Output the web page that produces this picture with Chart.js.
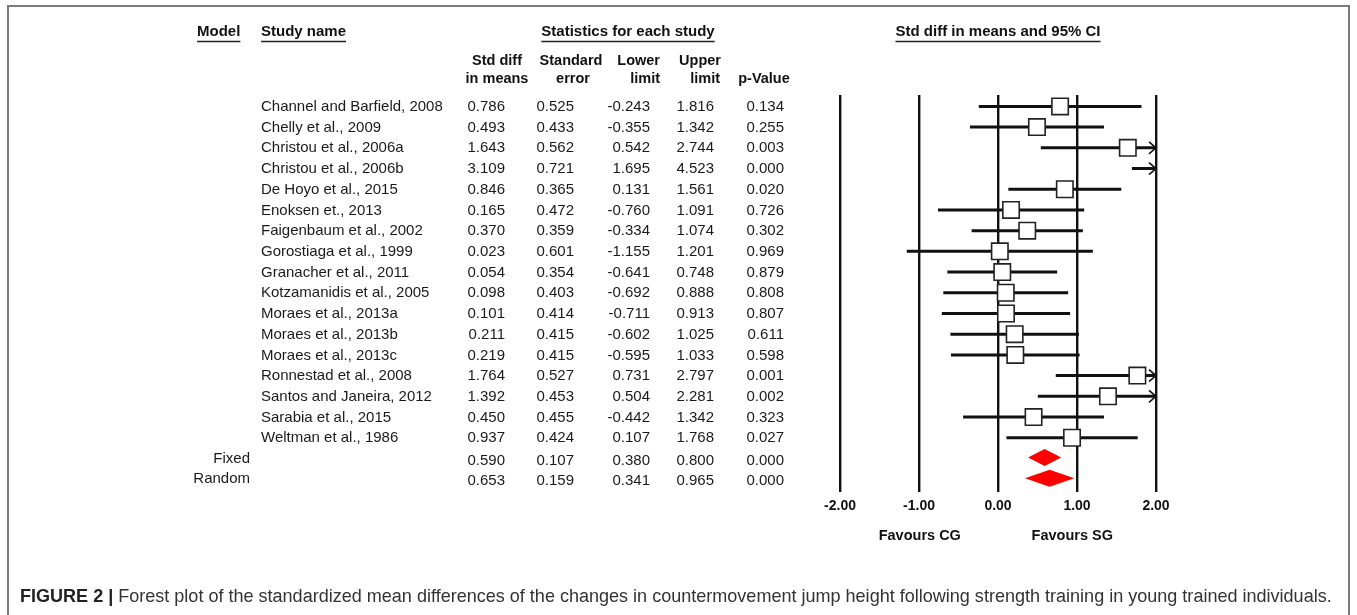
<!DOCTYPE html>
<html><head><meta charset="utf-8">
<script src="https://cdn.jsdelivr.net/npm/chart.js@4/dist/chart.umd.min.js"></script>
<style>
html,body{margin:0;padding:0;background:#fff;width:1357px;height:615px;overflow:hidden}
#wrap{position:absolute;left:0;top:0;width:1357px;height:615px}
</style></head><body>
<div id="wrap"><canvas id="c" width="1357" height="615"></canvas></div>
<script>
const studies = [
  'Channel and Barfield, 2008','Chelly et al., 2009','Christou et al., 2006a','Christou et al., 2006b',
  'De Hoyo et al., 2015','Enoksen et., 2013','Faigenbaum et al., 2002','Gorostiaga et al., 1999',
  'Granacher et al., 2011','Kotzamanidis et al., 2005','Moraes et al., 2013a','Moraes et al., 2013b',
  'Moraes et al., 2013c','Ronnestad et al., 2008','Santos and Janeira, 2012','Sarabia et al., 2015',
  'Weltman et al., 1986'
];
const estimates   = [0.786,0.493,1.643,3.109,0.846,0.165,0.370,0.023,0.054,0.098,0.101,0.211,0.219,1.764,1.392,0.450,0.937];
const stdErrors   = [0.525,0.433,0.562,0.721,0.365,0.472,0.359,0.601,0.354,0.403,0.414,0.415,0.415,0.527,0.453,0.455,0.424];
const lowerLimits = [-0.243,-0.355,0.542,1.695,0.131,-0.760,-0.334,-1.155,-0.641,-0.692,-0.711,-0.602,-0.595,0.731,0.504,-0.442,0.107];
const upperLimits = [1.816,1.342,2.744,4.523,1.561,1.091,1.074,1.201,0.748,0.888,0.913,1.025,1.033,2.797,2.281,1.342,1.768];
const pValues     = [0.134,0.255,0.003,0.000,0.020,0.726,0.302,0.969,0.879,0.808,0.807,0.611,0.598,0.001,0.002,0.323,0.027];

const summaryLabels    = ['Fixed','Random'];
const summaryEstimates = [0.590,0.653];
const summaryErrors    = [0.107,0.159];
const summaryLower     = [0.380,0.341];
const summaryUpper     = [0.800,0.965];
const summaryP         = [0.000,0.000];

const xTicks = [-2,-1,0,1,2];
const xMin = -2, xMax = 2;

const nRows = studies.length + summaryLabels.length;
const F = '"Liberation Sans", Arial, sans-serif';

function txt(ctx, s, x, y, font, align, color){
  ctx.font = font; ctx.textAlign = align || 'left'; ctx.textBaseline = 'middle';
  ctx.fillStyle = color || '#111'; ctx.fillText(s, x, y);
}
function underlined(ctx, s, x, y, align){
  const font = 'bold 15px ' + F;
  txt(ctx, s, x, y, font, align);
  const w = ctx.measureText(s).width;
  let x0 = x;
  if (align === 'center') x0 = x - w/2;
  else if (align === 'right') x0 = x - w;
  ctx.strokeStyle = '#222'; ctx.lineWidth = 1.3;
  ctx.beginPath(); ctx.moveTo(x0, y + 9.5); ctx.lineTo(x0 + w, y + 9.5); ctx.stroke();
}

const forestPlugin = {
  id: 'forest',
  beforeDraw(chart){
    const ctx = chart.ctx;
    ctx.save();
    ctx.fillStyle = '#fff'; ctx.fillRect(0,0,chart.width,chart.height);
    ctx.strokeStyle = '#7a7a7a'; ctx.lineWidth = 2;
    ctx.beginPath();
    ctx.moveTo(8, 620); ctx.lineTo(8, 6); ctx.lineTo(1349, 6); ctx.lineTo(1349, 620);
    ctx.stroke();
    ctx.restore();
  },
  beforeDatasetsDraw(chart){
    const ctx = chart.ctx, xs = chart.scales.x, ys = chart.scales.y;
    ctx.save();
    ctx.strokeStyle = '#111'; ctx.lineWidth = 3; ctx.lineCap = 'butt';
    for (let i = 0; i < studies.length; i++){
      const lo = Math.max(lowerLimits[i], xMin), hi = Math.min(upperLimits[i], xMax);
      const y = ys.getPixelForValue(i);
      const x0 = xs.getPixelForValue(lo), x1 = xs.getPixelForValue(hi);
      ctx.beginPath(); ctx.moveTo(x0, y); ctx.lineTo(x1, y); ctx.stroke();
      if (upperLimits[i] > xMax){
        ctx.save(); ctx.lineWidth = 1.6;
        ctx.beginPath(); ctx.moveTo(x1 - 7, y - 6); ctx.lineTo(x1, y); ctx.lineTo(x1 - 7, y + 6); ctx.stroke();
        ctx.restore();
      }
      if (lowerLimits[i] < xMin){
        ctx.save(); ctx.lineWidth = 1.6;
        ctx.beginPath(); ctx.moveTo(x0 + 7, y - 6); ctx.lineTo(x0, y); ctx.lineTo(x0 + 7, y + 6); ctx.stroke();
        ctx.restore();
      }
    }
    ctx.fillStyle = '#ff0000';
    for (let k = 0; k < summaryLabels.length; k++){
      const y = ys.getPixelForValue(studies.length + k) - 1;
      const xl = xs.getPixelForValue(summaryLower[k]);
      const xc = xs.getPixelForValue(summaryEstimates[k]);
      const xr = xs.getPixelForValue(summaryUpper[k]);
      const h = 8.5;
      ctx.beginPath(); ctx.moveTo(xl, y); ctx.lineTo(xc, y - h); ctx.lineTo(xr, y); ctx.lineTo(xc, y + h); ctx.closePath(); ctx.fill();
    }
    ctx.restore();
  },
  afterDraw(chart){
    const ctx = chart.ctx, xs = chart.scales.x, ys = chart.scales.y;
    ctx.save();
    underlined(ctx, 'Model', 197, 32, 'left');
    underlined(ctx, 'Study name', 261, 32, 'left');
    underlined(ctx, 'Statistics for each study', 628, 32, 'center');
    underlined(ctx, 'Std diff in means and 95% CI', 998, 32, 'center');
    const hb = 'bold 14.5px ' + F;
    txt(ctx, 'Std diff', 497, 61, hb, 'center'); txt(ctx, 'in means', 497, 79, hb, 'center');
    txt(ctx, 'Standard', 571, 61, hb, 'center'); txt(ctx, 'error', 573, 79, hb, 'center');
    txt(ctx, 'Lower', 660, 61, hb, 'right'); txt(ctx, 'limit', 660, 79, hb, 'right');
    txt(ctx, 'Upper', 721, 61, hb, 'right'); txt(ctx, 'limit', 720, 79, hb, 'right');
    txt(ctx, 'p-Value', 764, 79, hb, 'center');
    const rf = '15px ' + F;
    const colRight = [505, 574, 650, 714, 784];
    const fmt = v => v.toFixed(3);
    for (let i = 0; i < studies.length; i++){
      const y = ys.getPixelForValue(i) + 0.5;
      txt(ctx, studies[i], 261, y, rf, 'left', '#1a1a1a');
      const vals = [estimates[i], stdErrors[i], lowerLimits[i], upperLimits[i], pValues[i]];
      vals.forEach((v, j) => txt(ctx, fmt(v), colRight[j], y, rf, 'right', '#1a1a1a'));
    }
    for (let k = 0; k < summaryLabels.length; k++){
      const y = ys.getPixelForValue(studies.length + k);
      txt(ctx, summaryLabels[k], 250, y, rf, 'right', '#1a1a1a');
      const vals = [summaryEstimates[k], summaryErrors[k], summaryLower[k], summaryUpper[k], summaryP[k]];
      vals.forEach((v, j) => txt(ctx, fmt(v), colRight[j], y + 2, rf, 'right', '#1a1a1a'));
    }
    txt(ctx, 'Favours CG', xs.getPixelForValue(-0.99), 536, 'bold 14.5px ' + F, 'center');
    txt(ctx, 'Favours SG', xs.getPixelForValue(0.94), 536, 'bold 14.5px ' + F, 'center');
    const capB = 'FIGURE 2 |';
    const capR = ' Forest plot of the standardized mean differences of the changes in countermovement jump height following strength training in young trained individuals.';
    let size = 16;
    ctx.font = 'bold ' + size + 'px ' + F; let wB = ctx.measureText(capB).width;
    ctx.font = size + 'px ' + F; let wR = ctx.measureText(capR).width;
    size = size * 1313 / (wB + wR);
    ctx.font = 'bold ' + size + 'px ' + F; wB = ctx.measureText(capB).width;
    txt(ctx, capB, 20, 597, 'bold ' + size + 'px ' + F, 'left', '#222');
    txt(ctx, capR, 20 + wB, 597, size + 'px ' + F, 'left', '#333');
    ctx.restore();
  }
};

const chart = new Chart(document.getElementById('c'), {
  type: 'scatter',
  data: {
    datasets: [{
      data: estimates.map((e, i) => ({x: e, y: i})),
      pointStyle: 'rect',
      pointRadius: 11.6,
      pointHoverRadius: 11.6,
      pointBackgroundColor: '#ffffff',
      pointBorderColor: '#222',
      pointBorderWidth: 1.6,
      showLine: false
    }]
  },
  options: {
    responsive: false,
    animation: false,
    devicePixelRatio: 1,
    events: [],
    layout: { padding: { left: 840, right: 201, top: 95, bottom: 103 } },
    plugins: { legend: { display: false }, tooltip: { enabled: false }, title: { display: false } },
    scales: {
      x: {
        type: 'linear', min: xMin, max: xMax, position: 'bottom',
        afterBuildTicks: s => { s.ticks = xTicks.map(v => ({value: v})); },
        afterFit: s => { s.height = 20; },
        grid: { color: '#111', lineWidth: 2.4, drawTicks: false },
        border: { display: false },
        ticks: { color: '#111', font: { family: 'Liberation Sans', weight: 'bold', size: 14 }, padding: 6,
                 callback: v => Number(v).toFixed(2), maxRotation: 0, autoSkip: false }
      },
      y: { type: 'linear', min: -0.55, max: nRows - 0.38, reverse: true, display: false }
    }
  },
  plugins: [forestPlugin]
});
</script>
</body></html>
